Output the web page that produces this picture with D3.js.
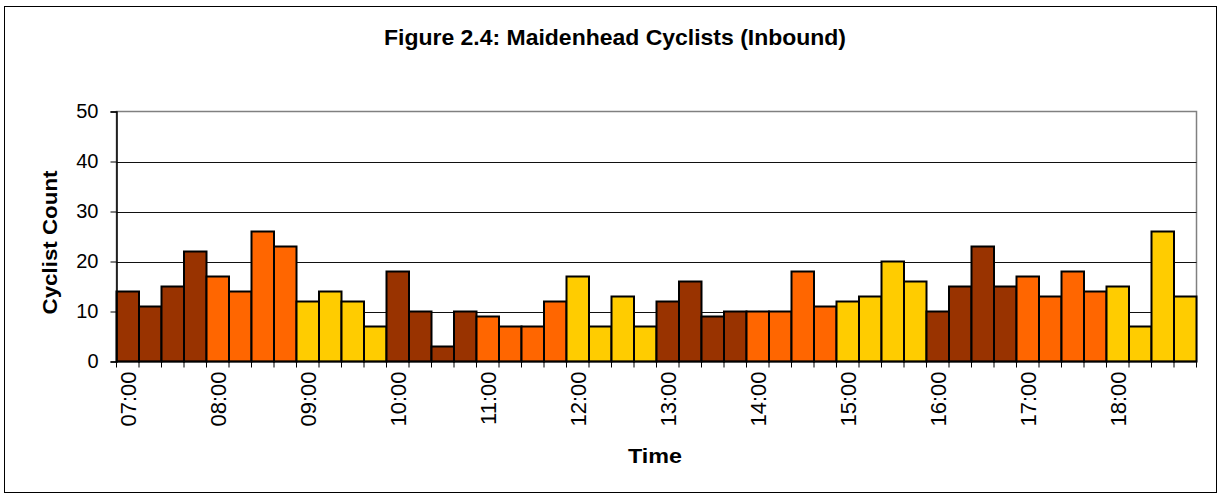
<!DOCTYPE html>
<html>
<head>
<meta charset="utf-8">
<script src="https://cdn.jsdelivr.net/npm/d3@7"></script>
<style>
  html, body { margin: 0; padding: 0; background: #fff; }
  svg { display: block; font-family: "Liberation Sans", Arial, sans-serif; }
</style>
</head>
<body>
<svg id="chart" width="1222" height="495"></svg>
<script>
// ---- Data ----
const times = [
  "07:00","07:15","07:30","07:45","08:00","08:15","08:30","08:45",
  "09:00","09:15","09:30","09:45","10:00","10:15","10:30","10:45",
  "11:00","11:15","11:30","11:45","12:00","12:15","12:30","12:45",
  "13:00","13:15","13:30","13:45","14:00","14:15","14:30","14:45",
  "15:00","15:15","15:30","15:45","16:00","16:15","16:30","16:45",
  "17:00","17:15","17:30","17:45","18:00","18:15","18:30","18:45"
];
const counts = [
  14, 11, 15, 22, 17, 14, 26, 23,
  12, 14, 12, 7, 18, 10, 3, 10,
  9, 7, 7, 12, 17, 7, 13, 7,
  12, 16, 9, 10, 10, 10, 18, 11,
  12, 13, 20, 16, 10, 15, 23, 15,
  17, 13, 18, 14, 15, 7, 26, 13
];
const colourGroups = ["brown","brown","brown","brown","orange","orange","orange","orange",
  "yellow","yellow","yellow","yellow","brown","brown","brown","brown",
  "orange","orange","orange","orange","yellow","yellow","yellow","yellow",
  "brown","brown","brown","brown","orange","orange","orange","orange",
  "yellow","yellow","yellow","yellow","brown","brown","brown","brown",
  "orange","orange","orange","orange","yellow","yellow","yellow","yellow"];
const yTicks = [0, 10, 20, 30, 40, 50];
const hourLabels = ["07:00","08:00","09:00","10:00","11:00","12:00","13:00","14:00","15:00","16:00","17:00","18:00"];
const title = "Figure 2.4: Maidenhead Cyclists (Inbound)";
const yTitle = "Cyclist Count";
const xTitle = "Time";

// ---- Layout ----
const svg = d3.select("#chart");
const m = { left: 116.5, right: 1196.5, top: 111.5, bottom: 361.5 };

const colour = d3.scaleOrdinal()
  .domain(["brown","orange","yellow"])
  .range(["#993300","#FF6600","#FFCC00"]);

const x = d3.scaleBand().domain(times).range([m.left, m.right]).padding(0);
const y = d3.scaleLinear().domain([0, 50]).range([m.bottom, m.top]);

// outer frame
svg.append("rect")
  .attr("x", 4.5).attr("y", 6.5).attr("width", 1212).attr("height", 486)
  .attr("fill", "#fff").attr("stroke", "#000").attr("stroke-width", 1);

// title
svg.append("text")
  .attr("x", 615).attr("y", 45)
  .attr("text-anchor", "middle")
  .attr("font-weight", "bold").attr("font-size", 22)
  .attr("textLength", 462).attr("lengthAdjust", "spacingAndGlyphs")
  .text(title);

// plot border (top/right gray)
svg.append("rect")
  .attr("x", m.left).attr("y", m.top)
  .attr("width", m.right - m.left).attr("height", m.bottom - m.top)
  .attr("fill", "none").attr("stroke", "#808080").attr("stroke-width", 1.5);

// gridlines
svg.append("g")
  .selectAll("line")
  .data(yTicks.filter(d => d > 0 && d < 50))
  .join("line")
  .attr("x1", m.left).attr("x2", m.right)
  .attr("y1", d => Math.round(y(d)) + 0.5).attr("y2", d => Math.round(y(d)) + 0.5)
  .attr("stroke", "#111").attr("stroke-width", 1);

// bars
svg.append("g")
  .selectAll("rect")
  .data(times.map((t, i) => ({ t, v: counts[i], g: colourGroups[i] })))
  .join("rect")
  .attr("x", d => x(d.t))
  .attr("y", d => y(d.v))
  .attr("width", x.bandwidth())
  .attr("height", d => y(0) - y(d.v))
  .attr("fill", d => colour(d.g))
  .attr("stroke", "#000").attr("stroke-width", 2);

// y axis
const yAxis = svg.append("g")
  .attr("transform", `translate(${m.left},0)`)
  .call(d3.axisLeft(y).tickValues(yTicks).tickSize(6).tickPadding(12).tickFormat(d3.format("d")));
yAxis.select(".domain").attr("stroke", "#000").attr("stroke-width", 1.5);
yAxis.selectAll(".tick line").attr("stroke", "#000");
yAxis.selectAll(".tick text")
  .attr("font-family", "Liberation Sans, Arial, sans-serif")
  .attr("font-size", 20).attr("fill", "#000");

// x axis: ticks on band boundaries
const boundaries = d3.range(times.length + 1).map(i => m.left + i * x.bandwidth());
const xg = svg.append("g");
xg.append("line")
  .attr("x1", m.left).attr("x2", m.right)
  .attr("y1", m.bottom).attr("y2", m.bottom)
  .attr("stroke", "#000").attr("stroke-width", 1.5);
xg.selectAll("line.tk")
  .data(boundaries)
  .join("line").attr("class", "tk")
  .attr("x1", d => d).attr("x2", d => d)
  .attr("y1", m.bottom).attr("y2", m.bottom + 6)
  .attr("stroke", "#000").attr("stroke-width", 1);
xg.selectAll("text")
  .data(hourLabels)
  .join("text")
  .attr("transform", d => `translate(${x(d) + x.bandwidth() / 2 + 8},${m.bottom + 10}) rotate(-90)`)
  .attr("text-anchor", "end")
  .attr("font-size", 22)
  .text(d => d);

// axis titles
svg.append("text")
  .attr("transform", `translate(57,${(m.top + m.bottom) / 2 + 6}) rotate(-90)`)
  .attr("text-anchor", "middle")
  .attr("font-weight", "bold").attr("font-size", 21)
  .attr("textLength", 144).attr("lengthAdjust", "spacingAndGlyphs")
  .text(yTitle);

svg.append("text")
  .attr("x", 655).attr("y", 463)
  .attr("text-anchor", "middle")
  .attr("font-weight", "bold").attr("font-size", 20)
  .attr("textLength", 54).attr("lengthAdjust", "spacingAndGlyphs")
  .text(xTitle);
</script>
</body>
</html>
